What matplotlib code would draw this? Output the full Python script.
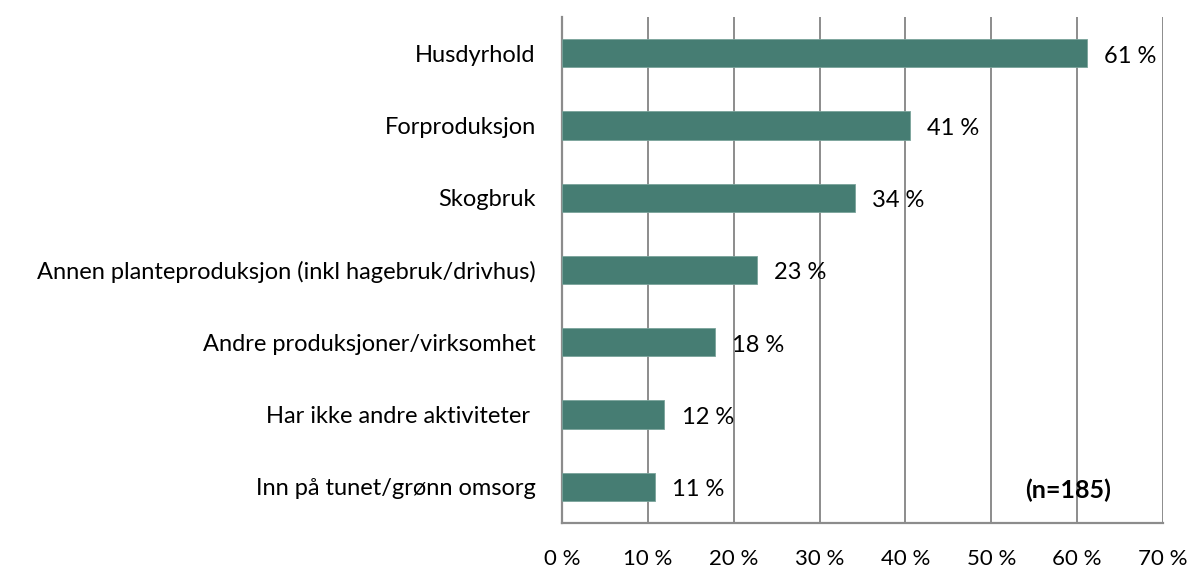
"""Andre aktiviteter på gården, horisontalt stolpediagram."""
import matplotlib.pyplot as plt
from matplotlib.ticker import FuncFormatter

plt.rcParams['font.family'] = ['Lato', 'DejaVu Sans']

categories = [
    "Husdyrhold",
    "Forproduksjon",
    "Skogbruk",
    "Annen planteproduksjon (inkl hagebruk/drivhus)",
    "Andre produksjoner/virksomhet",
    "Har ikke andre aktiviteter ",
    "Inn på tunet/grønn omsorg",
]
values = [61.1, 40.5, 34.1, 22.7, 17.8, 11.9, 10.8]
value_labels = ["61 %", "41 %", "34 %", "23 %", "18 %", "12 %", "11 %"]
x_ticks = [0, 10, 20, 30, 40, 50, 60, 70]
note = "(n=185)"

bar_color = "#467d73"
grid_color = "#8c8c8c"

fig = plt.figure(figsize=(11.94, 5.70), dpi=100)
ax = fig.add_axes([0.4707, 0.0825, 0.974 - 0.4707, 0.970 - 0.0825])

ypos = list(range(len(categories)))
ax.barh(ypos, values, height=0.39, color=bar_color,
        edgecolor="#7aa39b", linewidth=0.6, zorder=3)

for y, v, lab in zip(ypos, values, value_labels):
    ax.annotate(lab, xy=(v, y), xytext=(12.5, -2),
                textcoords="offset points", ha="left", va="center",
                fontsize=17, color="#000000", zorder=4)

ax.set_xlim(0, 70)
ax.set_ylim(len(categories) - 0.5, -0.5)
ax.set_xticks(x_ticks)
ax.xaxis.set_major_formatter(FuncFormatter(lambda x, _: f"{x:.0f} %"))
ax.set_yticks(ypos)
ax.set_yticklabels(categories)
ax.tick_params(axis="y", length=0, pad=19, labelsize=17)
ax.tick_params(axis="x", length=0, pad=19, labelsize=16)

ax.grid(axis="x", color=grid_color, linewidth=1.4, zorder=0)
for side in ("top", "right"):
    ax.spines[side].set_visible(False)
for side in ("left", "bottom"):
    ax.spines[side].set_color(grid_color)
    ax.spines[side].set_linewidth(1.6)

ax.text(0.842, 0.065, note, transform=ax.transAxes, ha="center", va="center",
        fontsize=18, fontweight="bold")

fig.savefig("out.png", dpi=100)
